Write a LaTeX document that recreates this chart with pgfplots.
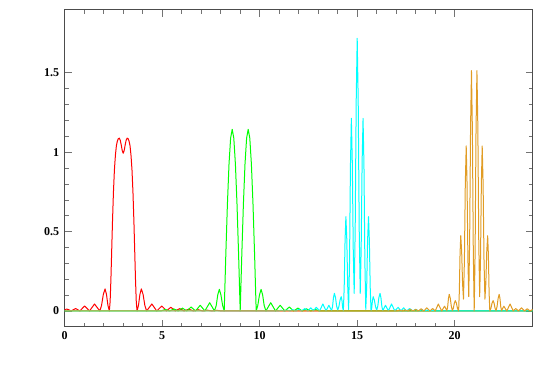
\documentclass[border=0pt]{standalone}
\usepackage{pgfplots}
\pgfplotsset{compat=1.18}
\usepackage{fontspec}
\setmainfont{Liberation Serif}
\definecolor{mred}{rgb}{1,0,0}
\definecolor{mgreen}{rgb}{0,1,0}
\definecolor{mcyan}{rgb}{0,1,1}
\definecolor{morange}{rgb}{0.880722,0.611041,0.142051}
\begin{document}
\begin{tikzpicture}
\begin{axis}[
  scale only axis, width=468pt, height=317pt,
  xmin=0, xmax=24, ymin=-0.099, ymax=1.897,
  xtick={0,5,10,15,20}, ytick={0,0.5,1,1.5},
  minor x tick num=4, minor y tick num=4,
  tick align=inside,
  major tick length=7pt, minor tick length=4pt,
  every tick/.style={black!55, line width=0.6pt},
  axis line style={black!70, line width=0.8pt},
  /pgf/number format/assume math mode=true,
  ticklabel style={font=\fontsize{12}{12}\selectfont\bfseries},
  yticklabel style={xshift=-2pt},
  xticklabel style={yshift=-1pt},
  every axis plot/.append style={line width=1pt, line join=round, mark=none},
]
% red
\addplot[mred] coordinates {
(0.00,0.008)(0.10,0.012)(0.20,0.008)(0.33,0)(0.445,0.008)(0.56,0.015)(0.67,0.008)(0.78,0)
(0.90,0.016)(1.02,0.031)(1.145,0.016)(1.27,0)(1.40,0.022)(1.53,0.044)(1.665,0.022)(1.80,0)
(1.89,0.035)(1.98,0.104)(2.07,0.139)(2.143,0.104)(2.217,0.035)(2.29,0)
(2.33,0.06)(2.37,0.2)(2.41,0.38)(2.45,0.56)(2.50,0.75)(2.55,0.89)(2.60,0.98)(2.65,1.04)
(2.70,1.07)(2.75,1.085)(2.80,1.088)(2.85,1.075)(2.90,1.045)(2.95,1.01)(3.00,0.993)
(3.05,1.01)(3.10,1.045)(3.15,1.075)(3.20,1.088)(3.25,1.085)(3.30,1.07)(3.35,1.04)(3.40,0.98)
(3.45,0.89)(3.50,0.75)(3.55,0.56)(3.59,0.38)(3.63,0.2)(3.67,0.06)(3.71,0)
(3.783,0.035)(3.857,0.104)(3.93,0.139)(4.02,0.104)(4.11,0.035)(4.20,0)
(4.335,0.022)(4.47,0.044)(4.595,0.022)(4.72,0)(4.85,0.016)(4.98,0.031)(5.10,0.016)(5.22,0)
(5.33,0.012)(5.44,0.023)(5.56,0.012)(5.67,0)(5.785,0.008)(5.90,0.015)(6.01,0.008)(6.12,0)
(6.24,0.006)(6.36,0.011)(6.48,0.006)(6.60,0)(6.72,0.004)(6.84,0.008)(6.96,0.004)(7.08,0)
(7.30,0.005)(7.55,0)(7.80,0.004)(8.05,0)(24,0)
};
% green
\addplot[mgreen] coordinates {
(0,0)(4.94,0)(5.05,0.005)(5.16,0.01)(5.27,0.005)(5.38,0)(5.49,0.0065)(5.60,0.013)(5.71,0.0065)(5.82,0)
(5.93,0.009)(6.04,0.018)(6.15,0.009)(6.26,0)(6.37,0.0125)(6.48,0.025)(6.595,0.0125)(6.71,0)
(6.83,0.018)(6.95,0.036)(7.07,0.018)(7.19,0)(7.31,0.026)(7.435,0.052)(7.56,0.026)(7.68,0)
(7.77,0.034)(7.85,0.102)(7.93,0.136)(8.01,0.102)(8.10,0.034)(8.18,0)
(8.262,0.354)(8.344,0.673)(8.426,0.925)(8.508,1.088)(8.59,1.144)(8.672,1.088)(8.754,0.925)(8.836,0.673)(8.918,0.354)(9.0,0)
(9.082,0.354)(9.164,0.673)(9.246,0.925)(9.328,1.088)(9.41,1.144)(9.492,1.088)(9.574,0.925)(9.656,0.673)(9.738,0.354)(9.82,0)
(9.90,0.034)(9.99,0.102)(10.07,0.136)(10.15,0.102)(10.23,0.034)(10.32,0)
(10.44,0.026)(10.565,0.052)(10.69,0.026)(10.81,0)(10.93,0.018)(11.05,0.036)(11.17,0.018)(11.29,0)
(11.405,0.0125)(11.52,0.025)(11.63,0.0125)(11.74,0)(11.85,0.009)(11.96,0.018)(12.07,0.009)(12.18,0)
(12.29,0.0065)(12.40,0.013)(12.51,0.0065)(12.62,0)(12.73,0.005)(12.84,0.01)(12.95,0.005)(13.06,0)(24,0)
};
% cyan
\addplot[mcyan] coordinates {
(0,0)(10.95,0)(11.10,0.005)(11.25,0)(11.40,0.006)(11.55,0)(11.70,0.008)(11.85,0)
(11.925,0.005)(12.00,0.01)(12.075,0.005)(12.15,0)(12.23,0.008)(12.31,0.015)(12.39,0.008)(12.47,0)
(12.545,0.01)(12.62,0.02)(12.69,0.01)(12.76,0)(12.83,0.012)(12.90,0.023)(12.985,0.012)(13.07,0)
(13.155,0.022)(13.24,0.044)(13.32,0.022)(13.40,0.002)(13.475,0.018)(13.55,0.036)(13.62,0.018)(13.69,0.003)
(13.737,0.030)(13.783,0.084)(13.83,0.111)(13.887,0.085)(13.943,0.032)(14.00,0.005)
(14.06,0.027)(14.12,0.068)(14.18,0.09)(14.217,0.0675)(14.253,0.0225)(14.29,0)
(14.333,0.149)(14.377,0.445)(14.42,0.594)(14.467,0.448)(14.513,0.156)(14.56,0.01)
(14.607,0.311)(14.653,0.912)(14.70,1.213)(14.748,0.938)(14.797,0.387)(14.845,0.111)
(14.897,0.513)(14.948,1.316)(15.00,1.717)(15.052,1.316)(15.103,0.513)(15.155,0.111)
(15.203,0.387)(15.252,0.938)(15.30,1.213)(15.347,0.912)(15.393,0.311)(15.44,0.01)
(15.487,0.156)(15.533,0.448)(15.58,0.594)(15.623,0.445)(15.667,0.149)(15.71,0)
(15.747,0.0225)(15.783,0.0675)(15.82,0.09)(15.88,0.068)(15.94,0.027)(16.00,0.005)
(16.057,0.032)(16.113,0.085)(16.17,0.111)(16.217,0.084)(16.263,0.030)(16.31,0.003)
(16.38,0.018)(16.45,0.036)(16.525,0.018)(16.60,0.002)(16.68,0.022)(16.76,0.044)(16.845,0.022)(16.93,0)
(17.015,0.012)(17.10,0.023)(17.17,0.012)(17.24,0)(17.31,0.01)(17.38,0.02)(17.455,0.01)(17.53,0)
(17.61,0.008)(17.69,0.015)(17.77,0.008)(17.85,0)(17.925,0.005)(18.00,0.01)(18.075,0.005)(18.15,0)
(18.30,0.008)(18.45,0)(18.60,0.006)(18.75,0)(18.90,0.005)(19.05,0)(24,0)
};
% orange
\addplot[morange] coordinates {
(0,0)(17.02,0)(17.16,0.006)(17.30,0)(17.44,0.007)(17.58,0)(17.65,0.005)(17.72,0.01)(17.79,0.005)(17.86,0)
(17.93,0.005)(18.00,0.01)(18.07,0.005)(18.14,0)(18.21,0.007)(18.28,0.014)(18.35,0.007)(18.42,0)
(18.495,0.01)(18.57,0.02)(18.65,0.01)(18.73,0)(18.80,0.008)(18.87,0.015)(18.935,0.008)(19.00,0)
(19.08,0.022)(19.16,0.044)(19.245,0.022)(19.33,0)(19.405,0.015)(19.48,0.03)(19.54,0.016)(19.60,0.003)
(19.64,0.028)(19.68,0.080)(19.72,0.105)(19.773,0.080)(19.827,0.029)(19.88,0.003)
(19.93,0.017)(19.98,0.049)(20.03,0.065)(20.087,0.049)(20.143,0.016)(20.20,0)
(20.237,0.119)(20.273,0.356)(20.31,0.474)(20.357,0.374)(20.403,0.174)(20.45,0.074)
(20.497,0.315)(20.543,0.798)(20.59,1.039)(20.633,0.802)(20.677,0.327)(20.72,0.09)
(20.767,0.446)(20.813,1.157)(20.86,1.513)(20.907,1.135)(20.953,0.378)(21.00,0)
(21.047,0.378)(21.093,1.135)(21.14,1.513)(21.187,1.157)(21.233,0.446)(21.28,0.09)
(21.323,0.327)(21.367,0.802)(21.41,1.039)(21.457,0.798)(21.503,0.315)(21.55,0.074)
(21.597,0.174)(21.643,0.374)(21.69,0.474)(21.727,0.356)(21.763,0.119)(21.80,0)
(21.857,0.016)(21.913,0.049)(21.97,0.065)(22.02,0.049)(22.07,0.017)(22.12,0.003)
(22.173,0.029)(22.227,0.080)(22.28,0.105)(22.32,0.080)(22.36,0.028)(22.40,0.003)
(22.46,0.016)(22.52,0.03)(22.595,0.015)(22.67,0)(22.755,0.022)(22.84,0.044)(22.92,0.022)(23.00,0)
(23.065,0.008)(23.13,0.015)(23.20,0.008)(23.27,0)(23.35,0.01)(23.43,0.02)(23.505,0.01)(23.58,0)
(23.65,0.007)(23.72,0.014)(23.79,0.007)(23.86,0)(23.93,0.005)(24.00,0.01)
};
\end{axis}
\path (current axis.south west) ++(-64.7pt,-47.3pt) coordinate (bbsw);
\path (current axis.north east) ++(12.3pt,9.7pt) coordinate (bbne);
\path (bbsw) rectangle (bbne);
\end{tikzpicture}
\end{document}
